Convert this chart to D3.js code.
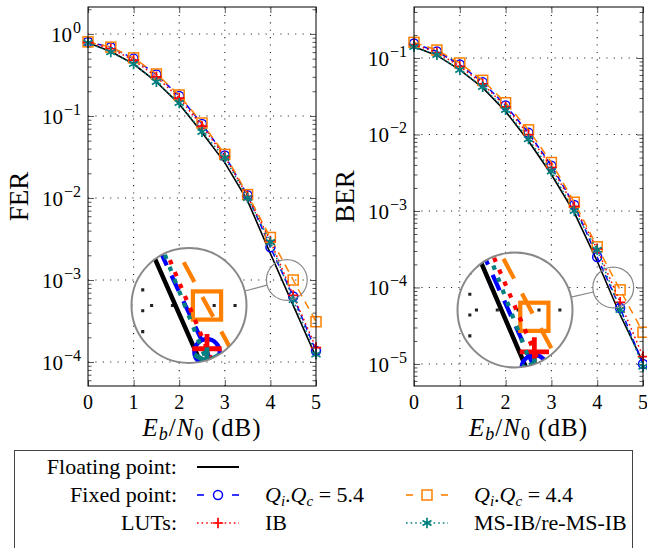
<!DOCTYPE html>
<html>
<head>
<meta charset="utf-8">
<script src="https://cdn.jsdelivr.net/npm/d3@7"></script>
<style>
  body { margin: 0; background: #fff; }
  .tick line { stroke: #555; }
  .domain { display: none; }
</style>
</head>
<body>
<svg id="chart" width="647" height="548" font-family="Liberation Serif"></svg>
<script>
'use strict';

// Eb/N0 points (dB)
var ebn0 = [0, 0.5, 1, 1.5, 2, 2.5, 3, 3.5, 4, 4.5, 5];
var xTicks = [0, 1, 2, 3, 4, 5];

// FER curves
var ferFloat = [0.78, 0.61, 0.43, 0.26, 0.14, 0.063, 0.027, 0.0092, 0.0021, 0.00049, 0.000115];
var ferFix54 = [0.8, 0.69, 0.5, 0.32, 0.175, 0.08, 0.033, 0.0108, 0.0025, 0.00063, 0.000136];
var ferFix44 = [0.8, 0.69, 0.51, 0.325, 0.18, 0.082, 0.034, 0.011, 0.0033, 0.001, 0.00031];
var ferIB    = [0.79, 0.66, 0.48, 0.3, 0.165, 0.075, 0.032, 0.0105, 0.003, 0.00065, 0.00015];
var ferMSIB  = [0.78, 0.6, 0.43, 0.26, 0.144, 0.064, 0.031, 0.01, 0.0029, 0.00057, 0.000124];

// BER curves
var berFloat = [0.14, 0.108, 0.07, 0.041, 0.02, 0.0082, 0.003, 0.00095, 0.00022, 0.000044, 0.0000105];
var berFix54 = [0.155, 0.122, 0.082, 0.048, 0.024, 0.0105, 0.0039, 0.0012, 0.00025, 0.000054, 0.00001];
var berFix44 = [0.16, 0.127, 0.086, 0.051, 0.026, 0.0115, 0.0043, 0.0013, 0.00034, 0.000093, 0.000026];
var berIB    = [0.15, 0.118, 0.078, 0.046, 0.023, 0.01, 0.0037, 0.00115, 0.00032, 0.000064, 0.0000125];
var berMSIB  = [0.14, 0.11, 0.07, 0.042, 0.021, 0.0087, 0.0033, 0.001, 0.00031, 0.000051, 0.0000092];

var ferDecades = [1, 1e-1, 1e-2, 1e-3, 1e-4];
var berDecades = [1e-1, 1e-2, 1e-3, 1e-4, 1e-5];

var FONT = 'Liberation Serif';

var styles = {
  float: { color: '#000', dash: null, mark: null },
  fix54: { color: '#0000ff', dash: '6,4', mark: 'circle' },
  fix44: { color: '#ff8000', dash: '8,6', mark: 'square' },
  ib:    { color: '#ff0000', dash: '1.6,3', mark: 'plus' },
  msib:  { color: '#008080', dash: '1.6,3', mark: 'star' }
};

var svg = d3.select('#chart');

panel({
  id: 'fer', left: 88, right: 316, top: 7, bottom: 386,
  yDomain: [5.1e-5, 2.13], decades: ferDecades, label: 'FER', labelX: 19,
  series: [['float', ferFloat], ['fix54', ferFix54], ['fix44', ferFix44], ['ib', ferIB], ['msib', ferMSIB]],
  spy: { x: 4.36, y: 1e-3, bx: 189, by: 305.5 }
});

panel({
  id: 'ber', left: 414, right: 643, top: 7, bottom: 386,
  yDomain: [5.15e-6, 0.464], decades: berDecades, label: 'BER', labelX: 345,
  series: [['float', berFloat], ['fix54', berFix54], ['fix44', berFix44], ['ib', berIB], ['msib', berMSIB]],
  spy: { x: 4.35, y: 1e-4, bx: 515, by: 310 }
});

legend();

function txt(sel) {
  return sel.append('text').attr('font-family', FONT);
}

function panel(p) {
  var x = d3.scaleLinear().domain([0, 5]).range([p.left, p.right]);
  var y = d3.scaleLog().domain(p.yDomain).range([p.bottom, p.top]);

  var minors = [];
  p.decades.concat([p.decades[p.decades.length - 1] / 10]).forEach(function(d) {
    for (var k = 2; k <= 9; k++) {
      var v = d * k;
      if (v > p.yDomain[0] && v < p.yDomain[1]) minors.push(v);
    }
  });

  var g = svg.append('g').attr('id', 'content-' + p.id);

  // dotted grid
  var grid = g.append('g').attr('stroke', '#222').attr('stroke-width', 1.1)
    .attr('stroke-dasharray', '1.1,6.3');
  grid.selectAll('line.gx').data(xTicks.slice(1, -1)).enter().append('line')
    .attr('x1', x).attr('x2', x).attr('y1', p.bottom).attr('y2', p.top);
  grid.selectAll('line.gy').data(p.decades).enter().append('line')
    .attr('y1', y).attr('y2', y).attr('x1', p.left).attr('x2', p.right);

  // ticks, pointing inwards
  g.append('g').attr('transform', 'translate(0,' + p.bottom + ')')
    .call(d3.axisBottom(x).tickValues(xTicks).tickSize(-6).tickFormat(''));
  g.append('g').attr('transform', 'translate(0,' + p.top + ')')
    .call(d3.axisTop(x).tickValues(xTicks).tickSize(-6).tickFormat(''));
  g.append('g').attr('transform', 'translate(' + p.left + ',0)')
    .call(d3.axisLeft(y).tickValues(p.decades).tickSize(-6).tickFormat(''));
  g.append('g').attr('transform', 'translate(' + p.right + ',0)')
    .call(d3.axisRight(y).tickValues(p.decades).tickSize(-6).tickFormat(''));
  g.append('g').attr('transform', 'translate(' + p.left + ',0)')
    .call(d3.axisLeft(y).tickValues(minors).tickSize(-3.5).tickFormat(''));
  g.append('g').attr('transform', 'translate(' + p.right + ',0)')
    .call(d3.axisRight(y).tickValues(minors).tickSize(-3.5).tickFormat(''));

  var line = d3.line().x(function(d) { return x(d[0]); }).y(function(d) { return y(d[1]); });

  p.series.forEach(function(s) {
    var st = styles[s[0]];
    var pts = ebn0.map(function(e, i) { return [e, s[1][i]]; });
    g.append('path').datum(pts)
      .attr('d', line)
      .attr('fill', 'none')
      .attr('stroke', st.color)
      .attr('stroke-width', st.mark ? 1.5 : 1.6)
      .attr('stroke-dasharray', st.dash);
    if (st.mark) {
      g.append('g').selectAll('g').data(pts).enter().append('g')
        .attr('transform', function(d) { return 'translate(' + x(d[0]) + ',' + y(d[1]) + ')'; })
        .each(function() { marker(d3.select(this), st); });
    }
  });

  // frame
  svg.append('rect')
    .attr('x', p.left).attr('y', p.top)
    .attr('width', p.right - p.left).attr('height', p.bottom - p.top)
    .attr('fill', 'none').attr('stroke', '#000').attr('stroke-width', 1);

  // tick labels
  var tg = svg.append('g');
  xTicks.forEach(function(d) {
    txt(tg).attr('x', x(d)).attr('y', 409)
      .attr('text-anchor', 'middle').attr('font-size', 20).text(d);
  });

  p.decades.forEach(function(d) {
    var e = Math.round(Math.log10(d));
    var t = txt(tg).attr('x', p.left - 7).attr('y', y(d) + 8)
      .attr('text-anchor', 'end').attr('font-size', 21);
    t.append('tspan').text('10');
    t.append('tspan').attr('dy', -9).attr('dx', 1).attr('font-size', 16)
      .text(e < 0 ? '\u2212' + (-e) : e);
  });

  // axis titles
  txt(svg)
    .attr('transform', 'translate(' + (p.labelX + 9) + ',' + ((p.top + p.bottom) / 2) + ') rotate(-90)')
    .attr('text-anchor', 'middle')
    .attr('font-size', 27)
    .text(p.label);

  var xl = txt(svg)
    .attr('x', (p.left + p.right) / 2).attr('y', 436)
    .attr('text-anchor', 'middle')
    .attr('font-size', 25)
    .attr('letter-spacing', 1);
  xl.append('tspan').attr('font-style', 'italic').text('E');
  xl.append('tspan').attr('font-style', 'italic').attr('font-size', 18).attr('dy', 4).text('b');
  xl.append('tspan').attr('dy', -4).text('/');
  xl.append('tspan').attr('font-style', 'italic').text('N');
  xl.append('tspan').attr('font-size', 18).attr('dy', 4).text('0');
  xl.append('tspan').attr('dy', -4).text(' (dB)');

  // magnifier
  var sp = p.spy, rs = 20.4, rb = 57.5, m = rb / rs;
  var sx = x(sp.x), sy = y(sp.y);
  var clipId = 'clip-' + p.id;
  svg.append('clipPath').attr('id', clipId)
    .append('circle').attr('cx', sp.bx).attr('cy', sp.by).attr('r', rb);
  var dx = sp.bx - sx, dy = sp.by - sy, len = Math.sqrt(dx * dx + dy * dy);
  svg.append('line')
    .attr('x1', sx + dx / len * rs).attr('y1', sy + dy / len * rs)
    .attr('x2', sp.bx - dx / len * rb).attr('y2', sp.by - dy / len * rb)
    .attr('stroke', '#888').attr('stroke-width', 1.2);
  svg.append('circle').attr('cx', sx).attr('cy', sy).attr('r', rs)
    .attr('fill', 'none').attr('stroke', '#888').attr('stroke-width', 1.2);
  svg.append('circle').attr('cx', sp.bx).attr('cy', sp.by).attr('r', rb)
    .attr('fill', '#fff');
  svg.append('g').attr('clip-path', 'url(#' + clipId + ')')
    .append('use').attr('href', '#content-' + p.id)
    .attr('transform', 'translate(' + sp.bx + ',' + sp.by + ') scale(' + m + ') translate(' + (-sx) + ',' + (-sy) + ')');
  svg.append('circle').attr('cx', sp.bx).attr('cy', sp.by).attr('r', rb)
    .attr('fill', 'none').attr('stroke', '#888').attr('stroke-width', 2);
}

function marker(sel, st) {
  var c = st.color;
  if (st.mark === 'circle') {
    sel.append('circle').attr('r', 4.5).attr('fill', 'none').attr('stroke', c).attr('stroke-width', 1.5);
  } else if (st.mark === 'square') {
    sel.append('rect').attr('x', -5).attr('y', -5).attr('width', 10).attr('height', 10)
      .attr('fill', 'none').attr('stroke', c).attr('stroke-width', 1.5);
  } else if (st.mark === 'plus') {
    sel.append('path').attr('d', 'M-5.2,0H5.2M0,-5.2V5.2')
      .attr('stroke', c).attr('stroke-width', 1.7);
  } else if (st.mark === 'star') {
    sel.append('path').attr('d', 'M0,-5.2V5.2M-4.5,-2.6L4.5,2.6M-4.5,2.6L4.5,-2.6')
      .attr('stroke', c).attr('stroke-width', 1.7);
  }
}

function legend() {
  var lg = svg.append('g');
  lg.append('rect').attr('x', 14.5).attr('y', 450.5).attr('width', 618).attr('height', 110)
    .attr('fill', '#fff').attr('stroke', '#444').attr('stroke-width', 1);

  var rows = [
    { label: 'Floating point:', y: 467, items: [{ key: 'float', x0: 197, text: null }] },
    { label: 'Fixed point:', y: 495, items: [{ key: 'fix54', x0: 197, text: '5.4' }, { key: 'fix44', x0: 406, text: '4.4' }] },
    { label: 'LUTs:', y: 523, items: [{ key: 'ib', x0: 197, text: 'IB' }, { key: 'msib', x0: 406, text: 'MS-IB/re-MS-IB' }] }
  ];

  rows.forEach(function(r) {
    txt(lg).attr('x', 177).attr('y', r.y + 7)
      .attr('text-anchor', 'end').attr('font-size', 22).text(r.label);
    r.items.forEach(function(it) {
      var st = styles[it.key];
      var w = 42;
      if (!st.mark) {
        lg.append('line').attr('x1', it.x0).attr('x2', it.x0 + w)
          .attr('y1', r.y).attr('y2', r.y)
          .attr('stroke', st.color).attr('stroke-width', 2.2);
      } else if (st.dash === '1.6,3') {
        lg.append('line').attr('x1', it.x0).attr('x2', it.x0 + w)
          .attr('y1', r.y).attr('y2', r.y)
          .attr('stroke', st.color).attr('stroke-width', 1.6)
          .attr('stroke-dasharray', st.dash);
      } else {
        [[0, 7], [w - 7, w]].forEach(function(seg) {
          lg.append('line').attr('x1', it.x0 + seg[0]).attr('x2', it.x0 + seg[1])
            .attr('y1', r.y).attr('y2', r.y)
            .attr('stroke', st.color).attr('stroke-width', 1.6);
        });
      }
      if (st.mark) marker(lg.append('g').attr('transform', 'translate(' + (it.x0 + w / 2) + ',' + r.y + ')'), st);
      if (!it.text) return;
      var t = txt(lg).attr('x', it.x0 + 68).attr('y', r.y + 7).attr('font-size', 22);
      if (r.label === 'Fixed point:') {
        t.append('tspan').attr('font-style', 'italic').text('Q');
        t.append('tspan').attr('font-style', 'italic').attr('font-size', 15).attr('dy', 4).text('i');
        t.append('tspan').attr('dy', -4).text('.');
        t.append('tspan').attr('font-style', 'italic').text('Q');
        t.append('tspan').attr('font-style', 'italic').attr('font-size', 15).attr('dy', 4).text('c');
        t.append('tspan').attr('dy', -4).text(' = ' + it.text);
      } else {
        t.text(it.text);
      }
    });
  });
}
</script>
</body>
</html>
